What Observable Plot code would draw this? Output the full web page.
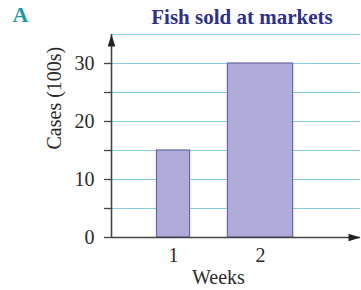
<!DOCTYPE html>
<html>
<head>
<meta charset="utf-8">
<script src="https://cdn.jsdelivr.net/npm/d3@7"></script>
<script src="https://cdn.jsdelivr.net/npm/@observablehq/plot@0.6"></script>
<style>
  html, body { margin: 0; padding: 0; background: #fff; }
</style>
</head>
<body>
<div id="chart"></div>
<script>
// ---- data ----
const weeks = [1, 2];
const cases = [15, 30];           // hundreds of cases
const barWidths = [0.38, 0.75];   // bar widths in week units
const yTickValues = [0, 5, 10, 15, 20, 25, 30];
const gridValues = [5, 10, 15, 20, 25, 30, 35];
const xTickValues = [1, 2];
const xDomain = [0.287, 3.149];
const yDomain = [0, 35];
const titleText = "Fish sold at markets";
const panelLetter = "A";
const xLabel = "Weeks";
const yLabel = "Cases (100s)";

const data = weeks.map((w, i) => ({week: w, cases: cases[i], width: barWidths[i]}));

const serif = "'Liberation Serif', 'Times New Roman', serif";
const axisColor = "#444";

// narrow filled arrowhead, tip at origin, pointing up
const arrowHead = {
  draw(ctx) {
    ctx.moveTo(0, 0);
    ctx.lineTo(-3.8, 12);
    ctx.lineTo(3.8, 12);
    ctx.closePath();
  }
};

const chart = Plot.plot({
  width: 361,
  height: 290,
  marginLeft: 111,
  marginRight: 1,
  marginTop: 34,
  marginBottom: 53,
  style: {fontFamily: serif, color: "#2a2a2a", background: "#fff"},
  x: {type: "linear", domain: xDomain},
  y: {domain: yDomain},
  marks: [
    Plot.ruleY(gridValues, {stroke: "#86cfe0", strokeWidth: 1}),
    Plot.rectY(data, {
      x1: d => d.week - d.width / 2,
      x2: d => d.week + d.width / 2,
      y: "cases",
      fill: "#b0acd9",
      stroke: "#6a66a6",
      strokeWidth: 1.2
    }),
    Plot.axisY({
      ticks: yTickValues,
      tickSize: 7,
      tickPadding: 10,
      tickFormat: d => (d % 10 === 0 ? String(d) : ""),
      fontSize: 20,
      label: null,
      stroke: axisColor,
      strokeWidth: 1.3
    }),
    Plot.axisX({
      ticks: xTickValues,
      tickSize: 0,
      tickPadding: 10,
      tickFormat: d => String(d),
      fontSize: 20,
      label: null
    }),
    Plot.ruleY([yDomain[0]], {stroke: axisColor, strokeWidth: 1.6}),
    Plot.ruleX([xDomain[0]], {stroke: axisColor, strokeWidth: 1.6}),
    Plot.dot([0], {x: xDomain[0], y: yDomain[1], symbol: arrowHead, fill: "#222", stroke: "none"}),
    Plot.dot([0], {x: xDomain[1], y: yDomain[0], symbol: arrowHead, rotate: 90, fill: "#222", stroke: "none"}),
    Plot.text([titleText], {
      frameAnchor: "top", dx: 6, dy: -17.5, lineAnchor: "middle",
      fontSize: 21, fontWeight: "bold", fill: "#2e3188"
    }),
    Plot.text([panelLetter], {
      frameAnchor: "top-left", textAnchor: "start", dx: -99, dy: -19.5, lineAnchor: "middle",
      fontSize: 22, fontWeight: "bold", fill: "#1f9aa0"
    }),
    Plot.text([xLabel], {
      frameAnchor: "bottom", dx: -17.5, dy: 40, lineAnchor: "middle",
      fontSize: 20, fill: "#2a2a2a"
    }),
    Plot.text([yLabel], {
      frameAnchor: "left", rotate: -90, dx: -57, dy: 13.5, lineAnchor: "middle",
      fontSize: 20, fill: "#2a2a2a"
    })
  ]
});

document.getElementById("chart").appendChild(chart);
</script>
</body>
</html>
